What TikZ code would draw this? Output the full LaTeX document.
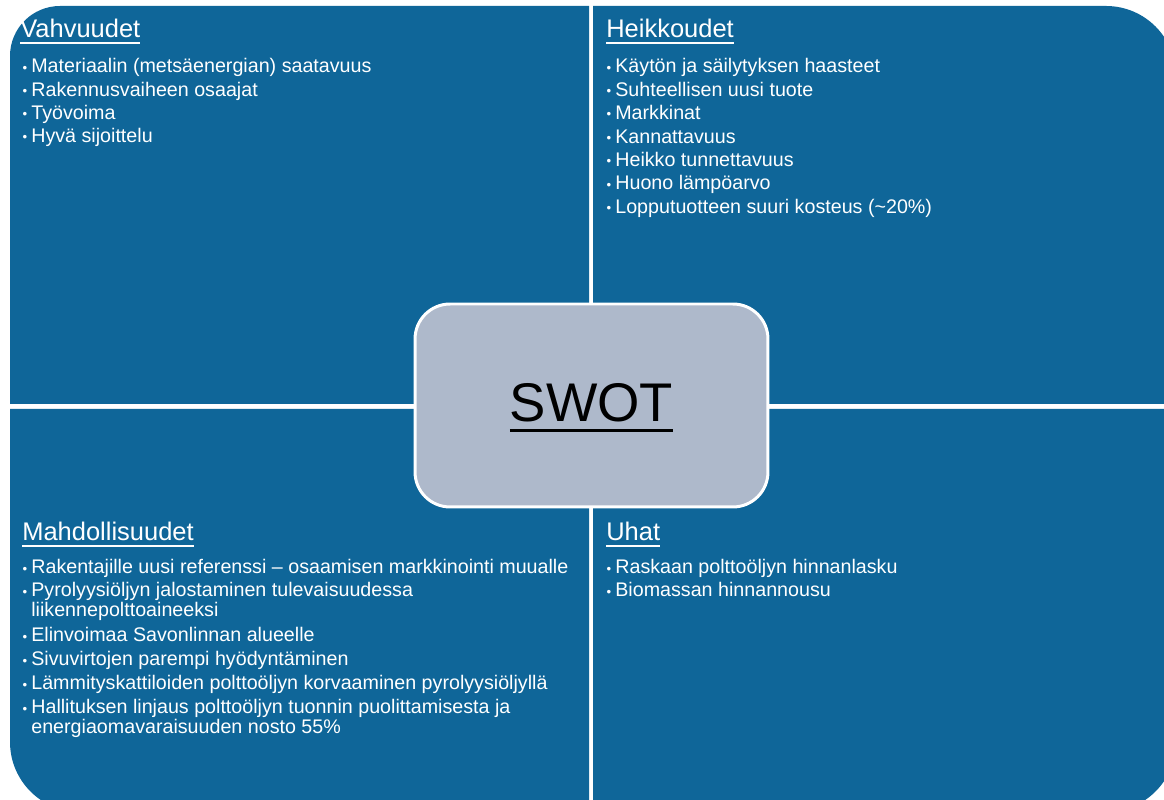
\documentclass[tikz,border=0pt]{standalone}
\usepackage{fontspec}
\setmainfont{Liberation Sans}
\definecolor{quad}{HTML}{0F6699}
\definecolor{swotfill}{HTML}{AEB9CB}
\newlength\px \setlength\px{0.02cm}
\newcommand\ulbox[3]{\sbox0{#1}\rlap{\rule[-#2]{\wd0}{#3}}\usebox0}
\newcommand\bul{\llap{\raisebox{0.04em}{\fontsize{7.5}{7.5}\selectfont\textbullet}\hspace{4\px}}}
\begin{document}
\begin{tikzpicture}[x=0.02cm,y=0.02cm,
  ttl/.style={anchor=base west,inner sep=0,text=white,font=\fontsize{14.5}{17}\selectfont},
  itm/.style={anchor=base west,inner sep=0,text=white,font=\fontsize{11.2}{13}\selectfont},
  swotbox/.style={draw=white,line width=1.7pt,fill=swotfill,rounded corners=0.7cm,
    minimum width=7.06cm,minimum height=4.06cm,inner sep=0},
  swottext/.style={anchor=base,inner sep=0,text=black,font=\fontsize{31}{37}\selectfont}]
\useasboundingbox (0,0) rectangle (1164,800);
\begin{scope}
\clip (0,0) rectangle (1164,800);
% quadrants
\fill[quad] (10,396) -- (10,744) arc[start angle=180,end angle=90,radius=1cm] -- (589,794) -- (589,396) -- cycle;
\fill[quad] (593,396) -- (593,794) -- (1106,794) arc[start angle=90,end angle=0,radius=1.4cm] -- (1176,396) -- cycle;
\fill[quad] (589,391) -- (10,391) -- (10,58) arc[start angle=180,end angle=270,radius=1.4cm] -- (589,-12) -- cycle;
\fill[quad] (593,391) -- (1176,391) -- (1176,58) arc[start angle=0,end angle=-90,radius=1.4cm] -- (593,-12) -- cycle;

% Strengths
\node[ttl] (ts) at (20,762) {\ulbox{Vahvuudet}{3.2pt}{0.85pt}};
\node[itm] (s1) at (31,727) {\bul Materiaalin (metsäenergian) saatavuus};
\node[itm] (s2) at (31,703.5) {\bul Rakennusvaiheen osaajat};
\node[itm] (s3) at (31,680.5) {\bul Työvoima};
\node[itm] (s4) at (31,657.5) {\bul Hyvä sijoittelu};

% Weaknesses
\node[ttl] (tw) at (606,762) {\ulbox{Heikkoudet}{3.2pt}{0.85pt}};
\node[itm] (w1) at (615,727) {\bul Käytön ja säilytyksen haasteet};
\node[itm] (w2) at (615,703.6) {\bul Suhteellisen uusi tuote};
\node[itm] (w3) at (615,680.2) {\bul Markkinat};
\node[itm] (w4) at (615,656.8) {\bul Kannattavuus};
\node[itm] (w5) at (615,633.4) {\bul Heikko tunnettavuus};
\node[itm] (w6) at (615,610) {\bul Huono lämpöarvo};
\node[itm] (w7) at (615,586.6) {\bul Lopputuotteen suuri kosteus (\textasciitilde 20\%)};

% Opportunities
\node[ttl] (to) at (22,259) {\ulbox{Mahdollisuudet}{3.2pt}{0.85pt}};
\node[itm] (o1) at (31,226) {\bul Rakentajille uusi referenssi – osaamisen markkinointi muualle};
\node[itm] (o2) at (31,203) {\bul Pyrolyysiöljyn jalostaminen tulevaisuudessa};
\node[itm] (o2b) at (31,183) {liikennepolttoaineeksi};
\node[itm] (o3) at (31,158) {\bul Elinvoimaa Savonlinnan alueelle};
\node[itm] (o4) at (31,134) {\bul Sivuvirtojen parempi hyödyntäminen};
\node[itm] (o5) at (31,110) {\bul Lämmityskattiloiden polttoöljyn korvaaminen pyrolyysiöljyllä};
\node[itm] (o6) at (31,86) {\bul Hallituksen linjaus polttoöljyn tuonnin puolittamisesta ja};
\node[itm] (o6b) at (31,66) {energiaomavaraisuuden nosto 55\%};

% Threats
\node[ttl] (tt) at (606,259) {\ulbox{Uhat}{3.2pt}{0.85pt}};
\node[itm] (t1) at (615,226) {\bul Raskaan polttoöljyn hinnanlasku};
\node[itm] (t2) at (615,203) {\bul Biomassan hinnannousu};

% centre
\node[swotbox] (swot) at (591.5,394.5) {};
\node[swottext] (swotlbl) at (591.5,378) {\ulbox{SWOT}{5.95pt}{1.7pt}};
\end{scope}
\end{tikzpicture}
\end{document}
